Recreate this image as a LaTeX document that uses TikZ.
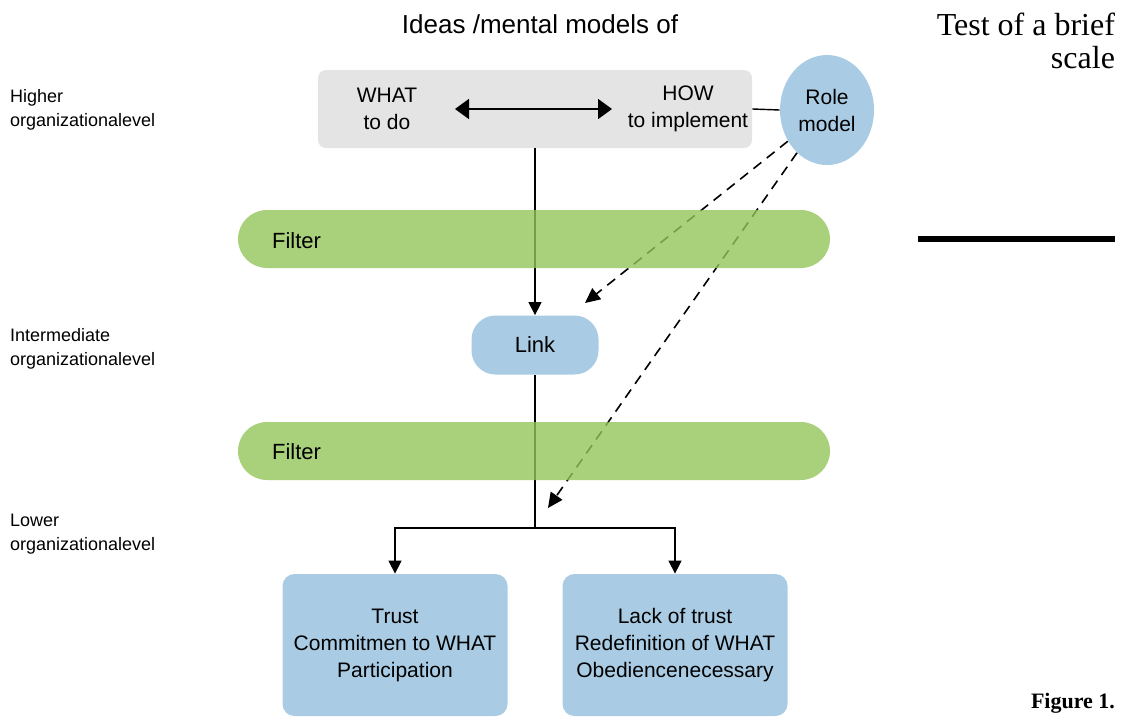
\documentclass[tikz,border=0pt]{standalone}
\usepackage{fontspec}
\setmainfont{Liberation Sans}
\newfontfamily\journalfont{Liberation Serif}
\usetikzlibrary{arrows.meta, shapes.geometric}

\definecolor{boxgray}{HTML}{E4E4E4}
\definecolor{boxblue}{HTML}{A9CCE4}
\definecolor{filtgreen}{RGB}{148,196,90}

\begin{document}
\begin{tikzpicture}[x=0.5pt, y=-0.5pt,
  txt/.style={font=\fontsize{10.5}{13.5}\selectfont, align=center},
  lvl/.style={font=\fontsize{9}{12}\selectfont, align=left, anchor=west},
  bluebox/.style={fill=boxblue, rounded corners=6pt, minimum width=112.5pt, minimum height=71pt, txt},
  filt/.style={fill=filtgreen, fill opacity=0.8, rounded corners=14.5pt, minimum width=296pt, minimum height=29pt},
  tri/.style={-{Triangle[length=6.5pt,width=6.5pt]}},
  dsh/.style={dash pattern=on 5pt off 3.5pt, line width=0.8pt}]
\useasboundingbox (0,0) rectangle (1128,718);

% headings
\node[font=\fontsize{13}{15}\selectfont] (title) at (540,24) {Ideas /mental models of};
\node[font=\journalfont\fontsize{16}{16.5}\selectfont, align=right, anchor=east] (journal) at (1122,41) {Test of a brief\\scale};
\draw[line width=3pt] (918,239) -- (1115,239);
\node[font=\journalfont\bfseries\fontsize{11}{13}\selectfont, anchor=east] (fig) at (1122,703) {Figure 1.};

% levels
\node[lvl] (lvlA) at (3,110) {Higher\\organizationalevel};
\node[lvl] (lvlB) at (3,349) {Intermediate\\organizationalevel};
\node[lvl] (lvlC) at (3,534) {Lower\\organizationalevel};

% top
\node[fill=boxgray, rounded corners=4pt, minimum width=217pt, minimum height=39pt] (ideas) at (535,109) {};
\node[txt] (what) at (387,109) {WHAT\\to do};
\node[txt] (how) at (688,109) {HOW\\to implement};
\node[ellipse, fill=boxblue, inner sep=0pt, minimum width=47pt, minimum height=55pt, txt] (role) at (827,110) {Role\\model};
\coordinate (dblL) at (455,109);
\coordinate (dblR) at (612,109);
\draw[line width=0.9pt, {Triangle[length=7pt,width=10pt]}-{Triangle[length=7pt,width=10pt]}] (dblL) -- (dblR);
\draw[line width=0.7pt] (ideas.east) -- (role.west);

% middle and bottom
\node[fill=boxblue, rounded corners=12pt, minimum width=63.5pt, minimum height=29.5pt, font=\fontsize{11}{13}\selectfont] (link) at (535,345) {Link};
\node[bluebox] (trust) at (395,645) {Trust\\Commitmen to WHAT\\Participation};
\node[bluebox] (lack) at (675,645) {Lack of trust\\Redefinition of WHAT\\Obediencenecessary};
\coordinate (split) at (535,528);
\coordinate (tipA) at (585,303);
\coordinate (tipB) at (548,508);

\draw[line width=0.7pt, tri] (ideas.south) -- (link.north);
\draw[line width=0.7pt] (link.south) -- (split);
\draw[line width=0.7pt, tri] (split) -| (trust.north);
\draw[line width=0.7pt, tri] (split) -| (lack.north);
\draw[dsh, -{Triangle[length=7.5pt,width=7pt]}] (role) -- (tipA);
\draw[dsh, -{Triangle[length=7.5pt,width=7pt]}] (role) -- (tipB);

% filters on top
\node[filt] (filtA) at (534,239) {};
\node[filt] (filtB) at (534,451) {};
\node[font=\fontsize{11}{13}\selectfont, anchor=west] (filtAtxt) at (265,241) {Filter};
\node[font=\fontsize{11}{13}\selectfont, anchor=west] (filtBtxt) at (265,452) {Filter};
\end{tikzpicture}
\end{document}
